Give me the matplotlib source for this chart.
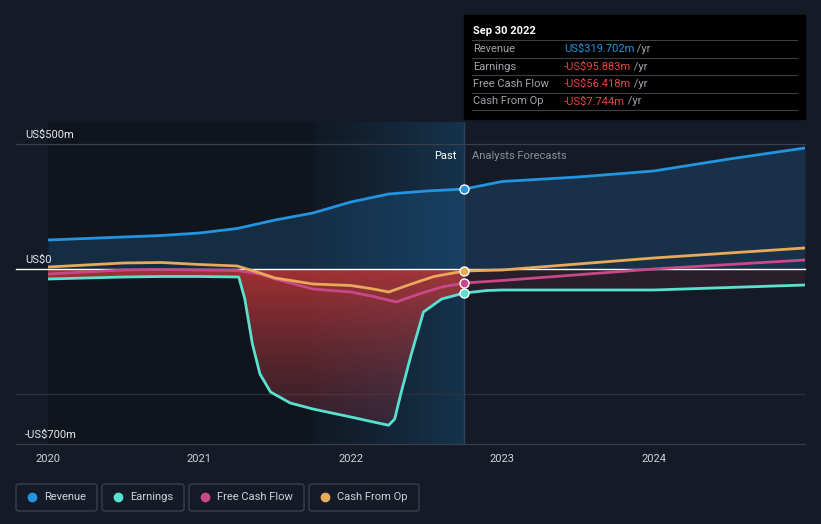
import matplotlib.pyplot as plt
import numpy as np
from matplotlib.patches import FancyBboxPatch, Rectangle
from matplotlib.colors import LinearSegmentedColormap
from matplotlib.text import Annotation
from matplotlib.transforms import blended_transform_factory

plt.rcParams['font.family'] = ['Roboto', 'DejaVu Sans']

# values (US$ m)
rev_x = [2020.0, 2020.25, 2020.5, 2020.75, 2021.0, 2021.25, 2021.5, 2021.75,
         2022.0, 2022.25, 2022.5, 2022.75, 2023.0, 2023.5, 2024.0, 2024.5, 2025.0]
rev_y = [116, 122, 128, 134, 144, 162, 196, 224,
         268, 300, 312, 320, 350, 368, 392, 440, 484]

earn_x = [2020.0, 2020.25, 2020.5, 2020.75, 2021.0, 2021.26, 2021.3, 2021.35,
          2021.4, 2021.47, 2021.6, 2021.75, 2022.0, 2022.15, 2022.25, 2022.29,
          2022.33, 2022.4, 2022.48, 2022.6, 2022.75, 2022.9, 2023.0, 2024.0, 2025.0]
earn_y = [-40, -36, -32, -30, -30, -32, -120, -300,
          -420, -492, -536, -560, -592, -612, -625, -600,
          -500, -340, -172, -120, -96, -86, -84, -84, -64]

fcf_x = [2020.0, 2020.25, 2020.5, 2020.75, 2021.0, 2021.25, 2021.4, 2021.5,
         2021.75, 2022.0, 2022.15, 2022.3, 2022.45, 2022.6, 2022.75,
         2023.0, 2024.0, 2025.0]
fcf_y = [-20, -12, -4, -2, -4, -6, -20, -40,
         -80, -92, -110, -132, -100, -72, -56,
         -46, 0, 36]

cfo_x = [2020.0, 2020.25, 2020.5, 2020.75, 2021.0, 2021.25, 2021.4, 2021.5,
         2021.75, 2022.0, 2022.15, 2022.25, 2022.4, 2022.55, 2022.75,
         2023.0, 2024.0, 2025.0]
cfo_y = [8, 16, 24, 26, 18, 12, -16, -36,
         -60, -66, -80, -92, -60, -30, -8,
         -4, 44, 84]

now_x = 2022.75
year_ticks = [2020, 2021, 2022, 2023, 2024]
y_labels = [(500, 'US$500m'), (0, 'US$0'), (-700, '-US$700m')]

tip_rows = [('Revenue', 'US$319.702m', '#2394df'),
            ('Earnings', '-US$95.883m', '#e64545'),
            ('Free Cash Flow', '-US$56.418m', '#e64545'),
            ('Cash From Op', '-US$7.744m', '#e64545')]

series = [('Revenue', rev_x, rev_y, '#2394df'),
          ('Earnings', earn_x, earn_y, '#58e1cf'),
          ('Free Cash Flow', fcf_x, fcf_y, '#c8488a'),
          ('Cash From Op', cfo_x, cfo_y, '#e8a95a')]

bg = '#151b26'
fig = plt.figure(figsize=(8.21, 5.24), dpi=100, facecolor=bg)
ax = fig.add_axes([48/821, 80/524, 757/821, 322/524], facecolor=bg)
ax.set_xlim(2020, 2025)
ax.set_ylim(-700, 588)
for s in ax.spines.values():
    s.set_visible(False)
ax.set_yticks([])
ax.set_xticks(year_ticks)
ax.set_xticklabels([str(t) for t in year_ticks], color='#d0d3d8', fontsize=8)
ax.tick_params(axis='x', length=0, pad=7)

# past background darker, with blue highlight on the last year
ax.axvspan(2020, now_x, color='#10151d', lw=0, zorder=0)
grad = np.linspace(0, 1, 300).reshape(1, -1)
bl = LinearSegmentedColormap.from_list('bl', [(0.12, 0.35, 0.55, 0.06), (0.12, 0.40, 0.62, 0.38)])
ax.imshow(grad, cmap=bl, extent=[2021.75, now_x, -700, 588], aspect='auto',
          interpolation='bilinear', zorder=0.5)

# grid lines extending left into the label margin
tr = blended_transform_factory(ax.transAxes, ax.transData)
x0 = -32/757
for v, c in [(500, '#3a404b'), (-500, '#2c323c'), (-700, '#3a404b')]:
    ax.plot([x0, 1], [v, v], color=c, lw=0.9, transform=tr, clip_on=False, zorder=1)
for v, lab in y_labels:
    ax.annotate(lab, xy=(0, v), xycoords=tr, xytext=(-23, 4), textcoords='offset pixels',
                color='#e6e8eb', fontsize=8, va='bottom', ha='left', annotation_clip=False)

# revenue area
ax.fill_between(rev_x, rev_y, 0, color='#1e5a8a', alpha=0.35, lw=0, zorder=2)

# negative area: red gradient in the past, dim in the forecast
poly = ax.fill_between(earn_x, earn_y, 0, color='none', lw=0, zorder=2)
rd = LinearSegmentedColormap.from_list('rd', [(0.40, 0.18, 0.24, 0.30), (0.78, 0.22, 0.22, 0.80)])
vg = np.linspace(0, 1, 300).reshape(-1, 1)
im = ax.imshow(vg, cmap=rd, extent=[2020, now_x, -700, 0], origin='lower', aspect='auto',
               interpolation='bilinear', zorder=2)
im.set_clip_path(poly.get_paths()[0], transform=ax.transData)
fc = LinearSegmentedColormap.from_list('fc', [(0.45, 0.15, 0.18, 0.45), (0.30, 0.16, 0.20, 0.35)])
im2 = ax.imshow(vg, cmap=fc, extent=[now_x, 2025, -700, 0], origin='lower', aspect='auto',
                interpolation='bilinear', zorder=2)
im2.set_clip_path(poly.get_paths()[0], transform=ax.transData)

ax.plot([x0, 1], [0, 0], color='#ffffff', lw=1.0, transform=tr, clip_on=False, zorder=3)
ax.axvline(now_x, color='#24445f', lw=1.0, zorder=3)

for name, xs, ys, c in series:
    ax.plot(xs, ys, color=c, lw=2.0, zorder=4, solid_capstyle='round', solid_joinstyle='round')
    ax.plot([now_x], [np.interp(now_x, xs, ys)], 'o', ms=6.5, color=c,
            mec='white', mew=1.0, zorder=5)

ax.annotate('Past', xy=(now_x, 1), xycoords=('data', 'axes fraction'), xytext=(-8, -34),
            textcoords='offset pixels', color='#ffffff', fontsize=8, ha='right', va='center')
ax.annotate('Analysts Forecasts', xy=(now_x, 1), xycoords=('data', 'axes fraction'),
            xytext=(8, -34), textcoords='offset pixels', color='#8c9098', fontsize=8,
            ha='left', va='center')

# tooltip
fig.patches.append(Rectangle((464/821, 1 - 119/524), 341/821, 104/524,
                             transform=fig.transFigure, color='#000000', zorder=5))
fig.text(473/821, 1 - 31/524, 'Sep 30 2022', color='#ffffff', fontsize=8,
         fontweight='bold', va='center', zorder=6)
for i, (lab, val, c) in enumerate(tip_rows):
    yy = 1 - (49 + 17.5 * i) / 524
    fig.text(473/821, yy, lab, color='#a0a4aa', fontsize=8, va='center', zorder=6)
    t = fig.text(564/821, yy, val, color=c, fontsize=8, va='center', zorder=6)
    a = Annotation(' /yr', xy=(1, 0.5), xycoords=t, color='#a0a4aa', fontsize=8,
                   va='center', ha='left', annotation_clip=False)
    a.set_zorder(6)
    fig.add_artist(a)
for yl in [40, 58, 75, 93, 110]:
    fig.add_artist(plt.Line2D([472/821, 797/821], [1 - yl/524] * 2, color='#3c3f44',
                              lw=0.8, zorder=6))

# legend boxes
boxes = [(16, 97), (102, 184), (189, 304), (309, 419)]
for (name, xs, ys, c), (bx0, bx1) in zip(series, boxes):
    fig.patches.append(FancyBboxPatch((bx0/821, 1 - 511/524), (bx1 - bx0)/821, 27/524,
                                      boxstyle='round,pad=0,rounding_size=0.004',
                                      transform=fig.transFigure, facecolor='none',
                                      edgecolor='#3d434d', lw=0.9))
    fig.add_artist(plt.Line2D([(bx0 + 16)/821], [1 - 497/524], marker='o', ms=6,
                              color=c, lw=0))
    fig.text((bx0 + 28)/821, 1 - 497/524, name, color='#d0d3d8', fontsize=8, va='center')

fig.savefig('out.png', dpi=100, facecolor=bg)
